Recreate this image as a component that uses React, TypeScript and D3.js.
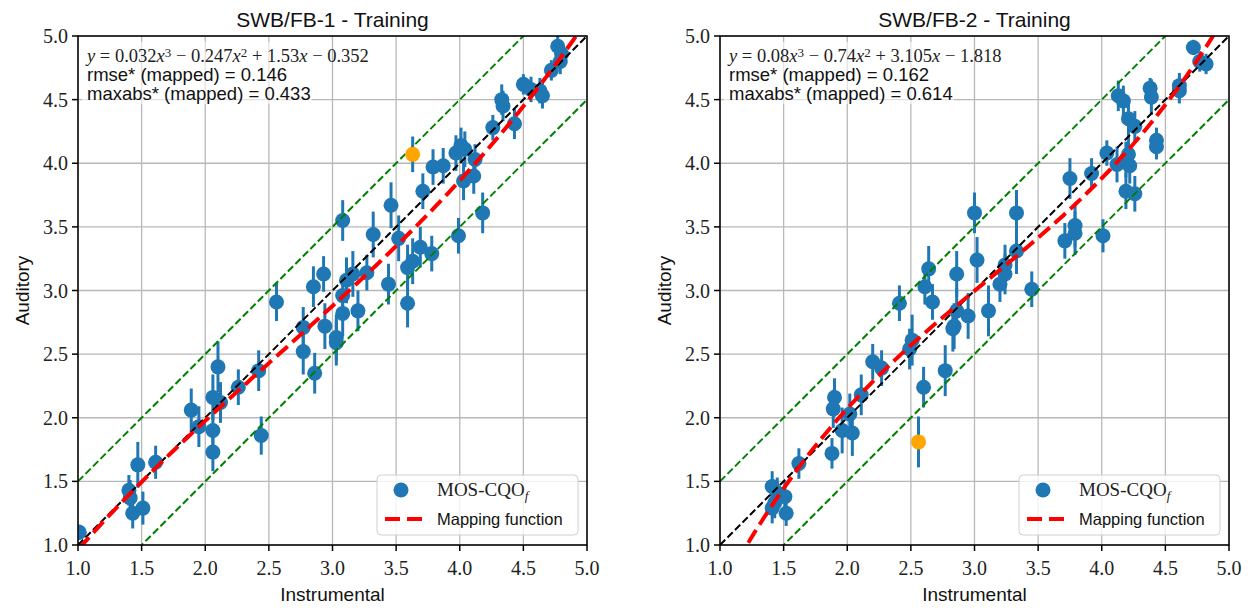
import * as d3 from "d3";

const W = 1253;
const H = 608;

const tickValues = [1.0, 1.5, 2.0, 2.5, 3.0, 3.5, 4.0, 4.5, 5.0];
const tickLabels = ["1.0", "1.5", "2.0", "2.5", "3.0", "3.5", "4.0", "4.5", "5.0"];

// SWB/FB-1 - Training
const fb1Instr = [4.77, 4.80, 4.79, 4.72, 4.50, 4.56, 4.63, 4.65, 4.33, 4.34, 4.43, 4.26, 4.01, 3.97, 4.04, 4.12, 3.79, 3.87, 4.03, 4.11, 3.71, 4.18, 3.46, 3.08, 3.32, 3.52, 3.99, 3.69, 3.78, 3.59, 3.63, 2.93, 3.16, 3.27, 3.11, 3.44, 2.85, 2.56, 3.59, 3.08, 3.08, 3.20, 2.77, 2.94, 3.03, 3.03, 2.77, 2.42, 2.86, 2.10, 2.26, 2.06, 2.12, 1.89, 1.95, 2.06, 2.44, 2.06, 1.61, 1.47, 1.40, 1.41, 1.43, 1.51, 1.01];
const fb1Aud = [4.92, 4.86, 4.80, 4.73, 4.62, 4.58, 4.57, 4.53, 4.50, 4.45, 4.31, 4.28, 4.14, 4.08, 4.11, 4.03, 3.97, 3.98, 3.86, 3.90, 3.78, 3.61, 3.67, 3.55, 3.44, 3.41, 3.43, 3.34, 3.29, 3.18, 3.23, 3.13, 3.13, 3.14, 3.08, 3.05, 3.03, 2.91, 2.90, 2.96, 2.82, 2.84, 2.71, 2.72, 2.63, 2.59, 2.52, 2.37, 2.35, 2.40, 2.24, 2.16, 2.12, 2.06, 1.93, 1.90, 1.86, 1.73, 1.65, 1.63, 1.43, 1.37, 1.25, 1.29, 1.10];
const fb1Err = [0.08, 0.08, 0.10, 0.08, 0.08, 0.10, 0.10, 0.10, 0.12, 0.12, 0.12, 0.10, 0.14, 0.14, 0.14, 0.12, 0.14, 0.14, 0.15, 0.14, 0.14, 0.16, 0.18, 0.16, 0.18, 0.18, 0.14, 0.16, 0.14, 0.18, 0.18, 0.14, 0.18, 0.14, 0.18, 0.16, 0.16, 0.15, 0.19, 0.14, 0.18, 0.16, 0.16, 0.18, 0.18, 0.18, 0.18, 0.16, 0.16, 0.20, 0.14, 0.18, 0.16, 0.17, 0.16, 0.16, 0.15, 0.15, 0.13, 0.18, 0.12, 0.14, 0.12, 0.13, 0.06];
const fb1OutInstr = [3.63];
const fb1OutAud = [4.07];
const fb1OutErr = [0.14];
const fb1Coeffs = [0.032, -0.247, 1.53, -0.352];
const fb1Stats = ["0.146", "0.433"];

// SWB/FB-2 - Training
const fb2Instr = [4.72, 4.77, 4.82, 4.61, 4.61, 4.38, 4.39, 4.13, 4.17, 4.21, 4.26, 4.43, 4.43, 4.04, 4.12, 4.21, 4.19, 4.22, 4.19, 4.26, 3.75, 3.92, 4.01, 3.71, 3.79, 3.79, 3.00, 3.33, 3.33, 3.02, 2.64, 2.86, 3.24, 3.24, 3.20, 2.61, 3.45, 2.41, 2.67, 2.86, 2.95, 3.11, 2.83, 2.84, 2.51, 2.49, 2.20, 2.27, 2.77, 2.60, 2.11, 1.90, 1.89, 2.02, 1.96, 2.04, 1.88, 1.62, 1.41, 1.45, 1.51, 1.41, 1.52, 1.43];
const fb2Aud = [4.91, 4.80, 4.78, 4.61, 4.57, 4.59, 4.52, 4.53, 4.49, 4.35, 4.29, 4.18, 4.13, 4.08, 3.99, 4.07, 4.03, 3.98, 3.78, 3.76, 3.88, 3.92, 3.43, 3.39, 3.51, 3.45, 3.61, 3.61, 3.31, 3.24, 3.17, 3.13, 3.20, 3.13, 3.05, 3.03, 3.01, 2.90, 2.91, 2.84, 2.80, 2.84, 2.70, 2.72, 2.61, 2.54, 2.44, 2.39, 2.37, 2.24, 2.18, 2.16, 2.07, 2.03, 1.90, 1.88, 1.72, 1.64, 1.46, 1.41, 1.38, 1.29, 1.25, 1.33];
const fb2Err = [0.06, 0.08, 0.08, 0.10, 0.10, 0.08, 0.14, 0.12, 0.12, 0.14, 0.12, 0.10, 0.10, 0.10, 0.14, 0.14, 0.14, 0.14, 0.14, 0.14, 0.16, 0.12, 0.13, 0.14, 0.17, 0.17, 0.16, 0.18, 0.18, 0.18, 0.18, 0.18, 0.16, 0.16, 0.14, 0.14, 0.14, 0.14, 0.14, 0.18, 0.18, 0.20, 0.18, 0.18, 0.20, 0.16, 0.14, 0.14, 0.20, 0.16, 0.16, 0.15, 0.15, 0.16, 0.18, 0.18, 0.12, 0.12, 0.12, 0.12, 0.12, 0.12, 0.10, 0.12];
const fb2OutInstr = [2.56];
const fb2OutAud = [1.81];
const fb2OutErr = [0.2];
const fb2Coeffs = [0.08, -0.74, 3.105, -1.818];
const fb2Stats = ["0.162", "0.614"];

const BLUE = "#1f77b4";
const ORANGE = "#ffa500";
const SANS = "'Liberation Sans', Arial, sans-serif";
const SERIF = "'Liberation Serif', 'DejaVu Serif', serif";

function Equation({ x, y, coeffs }) {
  const powers = [3, 2, 1, 0];
  const parts = [];
  coeffs.forEach((c, i) => {
    const p = powers[i];
    const mag = String(Math.abs(c));
    const sign = i === 0 ? (c < 0 ? "\u2212" : "") : c < 0 ? " \u2212 " : " + ";
    parts.push(<tspan key={`c${i}`}>{sign + mag}</tspan>);
    if (p > 0) parts.push(<tspan key={`x${i}`} fontStyle="italic">x</tspan>);
    if (p > 1) {
      parts.push(<tspan key={`p${i}`} baselineShift="40%" fontSize={13}>{p}</tspan>);
    }
  });
  return (
    <text x={x} y={y} fontFamily={SERIF} fontSize={18.5} fill="#222">
      <tspan fontStyle="italic">y</tspan>
      <tspan>{" = "}</tspan>
      {parts}
    </text>
  );
}

function Panel({ id, left, title, instr, aud, err, outInstr, outAud, outErr, coeffs, stats }) {
  const top = 36;
  const size = 509;
  const x = d3.scaleLinear().domain([1, 5]).range([left, left + size]);
  const y = d3.scaleLinear().domain([1, 5]).range([top + size, top]);
  const line = d3.line().x(d => x(d[0])).y(d => y(d[1]));

  const poly = (v) => coeffs[0] * v ** 3 + coeffs[1] * v ** 2 + coeffs[2] * v + coeffs[3];
  const mapping = d3.range(0.9, 5.11, 0.02).map(v => [v, poly(v)]);

  const legX = left + size - 9 - 201;
  const legY = top + size - 70;

  return (
    <g>
      <defs>
        <clipPath id={`clip-${id}`}>
          <rect x={left} y={top} width={size} height={size} />
        </clipPath>
      </defs>

      {/* grid */}
      {tickValues.map(t => (
        <g key={`g${t}`}>
          <line x1={x(t)} x2={x(t)} y1={top} y2={top + size} stroke="#b8b8b8" strokeWidth={1.3} />
          <line x1={left} x2={left + size} y1={y(t)} y2={y(t)} stroke="#b8b8b8" strokeWidth={1.3} />
        </g>
      ))}

      <g clipPath={`url(#clip-${id})`}>
        {instr.map((v, i) => (
          <line key={`e${i}`} x1={x(v)} x2={x(v)} y1={y(aud[i] - err[i])} y2={y(aud[i] + err[i])} stroke={BLUE} strokeWidth={3} />
        ))}
        {instr.map((v, i) => (
          <circle key={`m${i}`} cx={x(v)} cy={y(aud[i])} r={7.5} fill={BLUE} />
        ))}
        {outInstr.map((v, i) => (
          <line key={`oe${i}`} x1={x(v)} x2={x(v)} y1={y(outAud[i] - outErr[i])} y2={y(outAud[i] + outErr[i])} stroke={BLUE} strokeWidth={3} />
        ))}

        <path d={line([[1, 1.5], [5, 5.5]])} stroke="green" strokeWidth={2} strokeDasharray="7.4 3.2" fill="none" />
        <path d={line([[1, 0.5], [5, 4.5]])} stroke="green" strokeWidth={2} strokeDasharray="7.4 3.2" fill="none" />
        <path d={line([[1, 1], [5, 5]])} stroke="black" strokeWidth={2} strokeDasharray="7.4 3.2" fill="none" />
        <path d={line(mapping)} stroke="red" strokeWidth={4} strokeDasharray="14.8 6.4" fill="none" />

        {outInstr.map((v, i) => (
          <circle key={`o${i}`} cx={x(v)} cy={y(outAud[i])} r={7.5} fill={ORANGE} />
        ))}
      </g>

      {/* annotation */}
      <rect x={left + 4} y={top + 6} width={230} height={62} fill="white" opacity={0.6} />
      <Equation x={left + 9} y={top + 26} coeffs={coeffs} />
      <text x={left + 9} y={top + 45} fontFamily={SANS} fontSize={18.5} fill="#111">{`rmse* (mapped) = ${stats[0]}`}</text>
      <text x={left + 9} y={top + 64} fontFamily={SANS} fontSize={18.5} fill="#111">{`maxabs* (mapped) = ${stats[1]}`}</text>

      {/* frame */}
      <rect x={left} y={top} width={size} height={size} fill="none" stroke="black" strokeWidth={1.5} />

      {/* ticks */}
      {tickValues.map((t, i) => (
        <g key={`t${t}`}>
          <line x1={x(t)} x2={x(t)} y1={top + size} y2={top + size + 6} stroke="black" strokeWidth={1.5} />
          <text x={x(t)} y={top + size + 30} textAnchor="middle" fontFamily={SERIF} fontSize={20} fill="#222">{tickLabels[i]}</text>
          <line x1={left - 6} x2={left} y1={y(t)} y2={y(t)} stroke="black" strokeWidth={1.5} />
          <text x={left - 10} y={y(t)} dy="0.35em" textAnchor="end" fontFamily={SERIF} fontSize={20} fill="#222">{tickLabels[i]}</text>
        </g>
      ))}

      <text x={left + size / 2} y={27} textAnchor="middle" fontFamily={SANS} fontSize={21} fill="#111">{title}</text>
      <text x={left + size / 2} y={601} textAnchor="middle" fontFamily={SANS} fontSize={19} fill="#111">Instrumental</text>
      <text transform={`translate(${left - 56}, ${top + size / 2}) rotate(-90)`} textAnchor="middle" dy="0.35em" fontFamily={SANS} fontSize={19} fill="#111">Auditory</text>

      {/* legend */}
      <rect x={legX} y={legY} width={201} height={60} rx={4} fill="white" fillOpacity={0.8} stroke="#d0d0d0" strokeWidth={1} />
      <circle cx={legX + 24} cy={legY + 15} r={7.5} fill={BLUE} />
      <text x={legX + 60} y={legY + 21} fontFamily={SERIF} fontSize={19} fill="#222">
        MOS-CQO<tspan fontStyle="italic" fontSize={13} baselineShift="-30%">f</tspan>
      </text>
      <line x1={legX + 8} x2={legX + 45} y1={legY + 44} y2={legY + 44} stroke="red" strokeWidth={4} strokeDasharray="15 7" />
      <text x={legX + 60} y={legY + 50} fontFamily={SANS} fontSize={16.5} fill="#111">Mapping function</text>
    </g>
  );
}

export default function App() {
  return (
    <svg width={W} height={H} viewBox={`0 0 ${W} ${H}`} style={{ position: "absolute", left: 0, top: 0, background: "white" }}>
      <Panel id="fb1" left={78} title="SWB/FB-1 - Training" instr={fb1Instr} aud={fb1Aud} err={fb1Err}
        outInstr={fb1OutInstr} outAud={fb1OutAud} outErr={fb1OutErr} coeffs={fb1Coeffs} stats={fb1Stats} />
      <Panel id="fb2" left={720} title="SWB/FB-2 - Training" instr={fb2Instr} aud={fb2Aud} err={fb2Err}
        outInstr={fb2OutInstr} outAud={fb2OutAud} outErr={fb2OutErr} coeffs={fb2Coeffs} stats={fb2Stats} />
    </svg>
  );
}
